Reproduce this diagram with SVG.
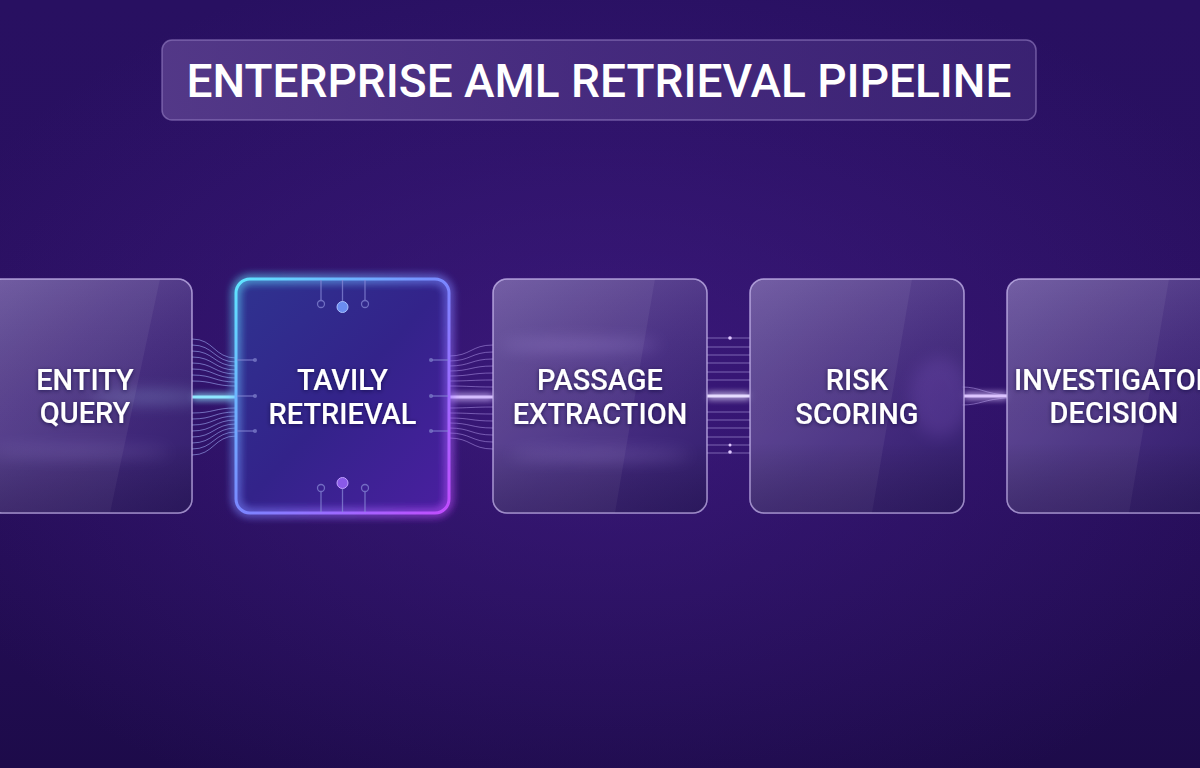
<svg xmlns="http://www.w3.org/2000/svg" width="1200" height="768" viewBox="0 0 1200 768">
<defs>
  <linearGradient id="bg" x1="0" y1="0" x2="0" y2="1">
    <stop offset="0" stop-color="#281061"/>
    <stop offset="0.5" stop-color="#2a0f60"/>
    <stop offset="1" stop-color="#1d0b4a"/>
  </linearGradient>
  <radialGradient id="bgGlow" cx="0.5" cy="0.52" r="0.6">
    <stop offset="0" stop-color="#4a2294" stop-opacity="0.5"/>
    <stop offset="1" stop-color="#4a2294" stop-opacity="0"/>
  </radialGradient>
  <linearGradient id="titleFill" x1="0" y1="0" x2="1" y2="0">
    <stop offset="0" stop-color="#5a3f8e" stop-opacity="0.85"/>
    <stop offset="0.5" stop-color="#4b3083" stop-opacity="0.8"/>
    <stop offset="1" stop-color="#3e2676" stop-opacity="0.8"/>
  </linearGradient>
  <linearGradient id="glass" x1="0" y1="0" x2="1" y2="1">
    <stop offset="0" stop-color="#6a54a0" stop-opacity="0.85"/>
    <stop offset="0.55" stop-color="#4c3486" stop-opacity="0.75"/>
    <stop offset="1" stop-color="#33206c" stop-opacity="0.8"/>
  </linearGradient>
  <linearGradient id="glassV" x1="0" y1="0" x2="0" y2="1">
    <stop offset="0" stop-color="#ffffff" stop-opacity="0.06"/>
    <stop offset="0.7" stop-color="#000000" stop-opacity="0"/>
    <stop offset="1" stop-color="#12062e" stop-opacity="0.25"/>
  </linearGradient>
  <linearGradient id="tavFill" x1="0" y1="0" x2="1" y2="1">
    <stop offset="0" stop-color="#2f3390"/>
    <stop offset="0.5" stop-color="#33238a"/>
    <stop offset="1" stop-color="#4a1fa0"/>
  </linearGradient>
  <linearGradient id="tavStroke" x1="0" y1="0" x2="1" y2="1">
    <stop offset="0" stop-color="#5fe6ff"/>
    <stop offset="0.5" stop-color="#7a86ff"/>
    <stop offset="1" stop-color="#c24cff"/>
  </linearGradient>
  <filter id="glow" x="-20%" y="-20%" width="140%" height="140%">
    <feGaussianBlur in="SourceGraphic" stdDeviation="5" result="b"/>
    <feMerge><feMergeNode in="b"/><feMergeNode in="b"/><feMergeNode in="SourceGraphic"/></feMerge>
  </filter>
  <filter id="lineGlow" filterUnits="userSpaceOnUse" x="150" y="370" width="900" height="55">
    <feGaussianBlur in="SourceGraphic" stdDeviation="3.5" result="b"/>
    <feMerge><feMergeNode in="b"/><feMergeNode in="b"/><feMergeNode in="SourceGraphic"/></feMerge>
  </filter>
  <filter id="soft" x="-50%" y="-200%" width="200%" height="500%">
    <feGaussianBlur stdDeviation="8"/>
  </filter>
  <filter id="textShadow" x="-10%" y="-30%" width="120%" height="160%">
    <feDropShadow dx="0" dy="1" stdDeviation="2" flood-color="#12052e" flood-opacity="0.6"/>
  </filter>
  <style>
    .glassBox { fill: url(#glass); stroke: #b8a6e0; stroke-opacity: 0.55; stroke-width: 1.5; }
    .shade { fill: url(#glassV); }
    .sheen { fill: #ffffff; opacity: 0.06; }
    .label { font-family: Roboto, "Liberation Sans", sans-serif; font-weight: 500; font-size: 29px; fill: #ffffff; text-anchor: middle; filter: url(#textShadow); }
    .title { font-family: Roboto, "Liberation Sans", sans-serif; font-weight: 500; font-size: 46px; fill: #ffffff; text-anchor: middle; }
    .fan { fill: none; stroke: #a8b8ff; stroke-opacity: 0.55; stroke-width: 1; }
    .fan2 { fill: none; stroke: #b8a0f0; stroke-opacity: 0.5; stroke-width: 1; }
    .par { stroke: #b8a8e8; stroke-opacity: 0.55; stroke-width: 1; }
    .pin { stroke: #8a8cd8; stroke-opacity: 0.7; stroke-width: 1.3; fill: none; }
    .pinDot { fill: #7a7cc8; fill-opacity: 0.8; }
    .beam { filter: url(#lineGlow); }
  </style>
  <clipPath id="c1"><rect x="-12" y="279" width="204" height="234" rx="14"/></clipPath>
  <clipPath id="c3"><rect x="493" y="279" width="214" height="234" rx="14"/></clipPath>
  <clipPath id="c4"><rect x="750" y="279" width="214" height="234" rx="14"/></clipPath>
  <clipPath id="c5"><rect x="1007" y="279" width="214" height="234" rx="14"/></clipPath>
</defs>

<rect width="1200" height="768" fill="url(#bg)"/>
<rect width="1200" height="768" fill="url(#bgGlow)"/>

<g id="title">
  <rect x="162" y="40" width="874" height="80" rx="10" fill="url(#titleFill)" stroke="#9a84c8" stroke-opacity="0.6" stroke-width="1.5"/>
  <text class="title" x="599" y="97">ENTERPRISE AML RETRIEVAL PIPELINE</text>
</g>

<g id="connectors">
  <!-- 1 to 2 fan -->
  <path class="fan" d="M192,339 C214,339 214,358 236,358 M192,345 C214,345 214,362 236,362 M192,351 C214,351 214,366 236,366 M192,357 C214,357 214,370 236,370 M192,363 C214,363 214,374 236,374 M192,369 C214,369 214,378 236,378 M192,375 C214,375 214,382 236,382 M192,381 C214,381 214,386 236,386"/>
  <path class="fan" d="M192,455 C214,455 214,436 236,436 M192,449 C214,449 214,432 236,432 M192,443 C214,443 214,428 236,428 M192,437 C214,437 214,424 236,424 M192,431 C214,431 214,420 236,420 M192,425 C214,425 214,416 236,416 M192,419 C214,419 214,412 236,412 M192,413 C214,413 214,408 236,408"/>
  <rect class="beam" x="192" y="395.5" width="44" height="3" fill="#8fe8ff"/>
  <!-- 2 to 3 fan -->
  <path class="fan2" d="M449,356 C471,356 471,345 493,345 M449,361 C471,361 471,352 493,352 M449,366 C471,366 471,359 493,359 M449,371 C471,371 471,366 493,366 M449,376 C471,376 471,373 493,373 M449,381 C471,381 471,380 493,380 M449,386 C471,386 471,387 493,387"/>
  <path class="fan2" d="M449,438 C471,438 471,449 493,449 M449,433 C471,433 471,442 493,442 M449,428 C471,428 471,435 493,435 M449,423 C471,423 471,428 493,428 M449,418 C471,418 471,421 493,421 M449,413 C471,413 471,414 493,414 M449,408 C471,408 471,407 493,407"/>
  <rect class="beam" x="449" y="395.5" width="44" height="3" fill="#d4bcff"/>
  <!-- 3 to 4 parallel -->
  <g class="par">
    <line x1="707" y1="338" x2="750" y2="338"/>
    <line x1="707" y1="347" x2="750" y2="347"/>
    <line x1="707" y1="355" x2="750" y2="355"/>
    <line x1="707" y1="363" x2="750" y2="363"/>
    <line x1="707" y1="372" x2="750" y2="372"/>
    <line x1="707" y1="380" x2="750" y2="380"/>
    <line x1="707" y1="412" x2="750" y2="412"/>
    <line x1="707" y1="420" x2="750" y2="420"/>
    <line x1="707" y1="428" x2="750" y2="428"/>
    <line x1="707" y1="437" x2="750" y2="437"/>
    <line x1="707" y1="445" x2="750" y2="445"/>
    <line x1="707" y1="453" x2="750" y2="453"/>
  </g>
  <circle cx="730" cy="338" r="1.8" fill="#e0c8ff"/>
  <circle cx="730" cy="445" r="1.5" fill="#e0c8ff"/>
  <circle cx="730" cy="452" r="1.8" fill="#e0c8ff"/>
  <rect class="beam" x="707" y="394.5" width="43" height="3" fill="#e6dcff"/>
  <!-- 4 to 5 -->
  <path class="fan2" d="M962,387 C980,387 985,394 1007,395 M962,405 C980,405 985,399 1007,398"/>
  <rect class="beam" x="964" y="394.5" width="43" height="3" fill="#dcc4ff"/>
</g>

<g id="node-entity-query">
  <rect class="glassBox" x="-12" y="279" width="204" height="234" rx="14"/>
  <g clip-path="url(#c1)">
    <polygon class="sheen" points="-12,279 160,279 110,513 -12,513"/>
    <rect class="shade" x="-12" y="279" width="204" height="234"/>
    <ellipse cx="150" cy="397" rx="60" ry="5" fill="#b0d8ff" opacity="0.35" filter="url(#soft)"/>
    <ellipse cx="80" cy="452" rx="90" ry="5" fill="#c8b8ff" opacity="0.2" filter="url(#soft)"/>
  </g>
  <rect x="-12" y="279" width="204" height="234" rx="14" fill="none" stroke="#c8b8f0" stroke-opacity="0.5" stroke-width="1.5"/>
  <text class="label" x="85" y="390">ENTITY</text>
  <text class="label" x="85" y="423">QUERY</text>
</g>

<g id="node-tavily-retrieval">
  <rect x="236" y="279" width="213" height="234" rx="14" fill="url(#tavFill)"/>
  <rect x="236" y="279" width="213" height="234" rx="14" fill="none" stroke="url(#tavStroke)" stroke-width="3" filter="url(#glow)"/>
  <line class="pin" x1="342.5" y1="280" x2="342.5" y2="302"/>
  <line class="pin" x1="321" y1="280" x2="321" y2="300"/>
  <line class="pin" x1="365" y1="280" x2="365" y2="300"/>
  <circle cx="321" cy="304" r="3.5" class="pin"/>
  <circle cx="365" cy="304" r="3.5" class="pin"/>
  <circle cx="342.5" cy="307" r="5.5" fill="#6a8cf0" stroke="#a8c0ff" stroke-width="1"/>
  <line class="pin" x1="342.5" y1="489" x2="342.5" y2="512"/>
  <line class="pin" x1="321" y1="492" x2="321" y2="512"/>
  <line class="pin" x1="365" y1="492" x2="365" y2="512"/>
  <circle cx="321" cy="488" r="3.5" class="pin" stroke="#9a7ad8"/>
  <circle cx="365" cy="488" r="3.5" class="pin" stroke="#9a7ad8"/>
  <circle cx="342.5" cy="483" r="5.5" fill="#8a5ae8" stroke="#c0a0ff" stroke-width="1"/>
  <line class="pin" x1="237" y1="360" x2="254" y2="360"/>
  <line class="pin" x1="237" y1="396" x2="254" y2="396"/>
  <line class="pin" x1="237" y1="431" x2="254" y2="431"/>
  <circle class="pinDot" cx="255" cy="360" r="2"/>
  <circle class="pinDot" cx="255" cy="396" r="2"/>
  <circle class="pinDot" cx="255" cy="431" r="2"/>
  <line class="pin" x1="432" y1="360" x2="448" y2="360"/>
  <line class="pin" x1="432" y1="396" x2="448" y2="396"/>
  <line class="pin" x1="432" y1="431" x2="448" y2="431"/>
  <circle class="pinDot" cx="431" cy="360" r="2"/>
  <circle class="pinDot" cx="431" cy="396" r="2"/>
  <circle class="pinDot" cx="431" cy="431" r="2"/>
  <text class="label" x="342.5" y="390">TAVILY</text>
  <text class="label" x="342.5" y="424">RETRIEVAL</text>
</g>

<g id="node-passage-extraction">
  <rect class="glassBox" x="493" y="279" width="214" height="234" rx="14"/>
  <g clip-path="url(#c3)">
    <polygon class="sheen" points="493,279 655,279 615,513 493,513"/>
    <rect class="shade" x="493" y="279" width="214" height="234"/>
    <ellipse cx="580" cy="345" rx="80" ry="5" fill="#c8b0ff" opacity="0.3" filter="url(#soft)"/>
    <ellipse cx="600" cy="455" rx="90" ry="5" fill="#c8b0ff" opacity="0.25" filter="url(#soft)"/>
  </g>
  <rect x="493" y="279" width="214" height="234" rx="14" fill="none" stroke="#c8b8f0" stroke-opacity="0.5" stroke-width="1.5"/>
  <text class="label" x="600" y="390">PASSAGE</text>
  <text class="label" x="600" y="424">EXTRACTION</text>
</g>

<g id="node-risk-scoring">
  <rect class="glassBox" x="750" y="279" width="214" height="234" rx="14"/>
  <g clip-path="url(#c4)">
    <polygon class="sheen" points="750,279 912,279 872,513 750,513"/>
    <rect class="shade" x="750" y="279" width="214" height="234"/>
    <ellipse cx="940" cy="397" rx="30" ry="40" fill="#9a6ae0" opacity="0.18" filter="url(#soft)"/>
  </g>
  <rect x="750" y="279" width="214" height="234" rx="14" fill="none" stroke="#c8b8f0" stroke-opacity="0.5" stroke-width="1.5"/>
  <text class="label" x="857" y="390">RISK</text>
  <text class="label" x="857" y="424">SCORING</text>
</g>

<g id="node-investigator-decision">
  <rect class="glassBox" x="1007" y="279" width="214" height="234" rx="14"/>
  <g clip-path="url(#c5)">
    <polygon class="sheen" points="1007,279 1169,279 1129,513 1007,513"/>
    <rect class="shade" x="1007" y="279" width="214" height="234"/>
  </g>
  <rect x="1007" y="279" width="214" height="234" rx="14" fill="none" stroke="#c8b8f0" stroke-opacity="0.5" stroke-width="1.5"/>
  <text class="label" x="1114" y="390">INVESTIGATOR</text>
  <text class="label" x="1114" y="423">DECISION</text>
</g>
</svg>
